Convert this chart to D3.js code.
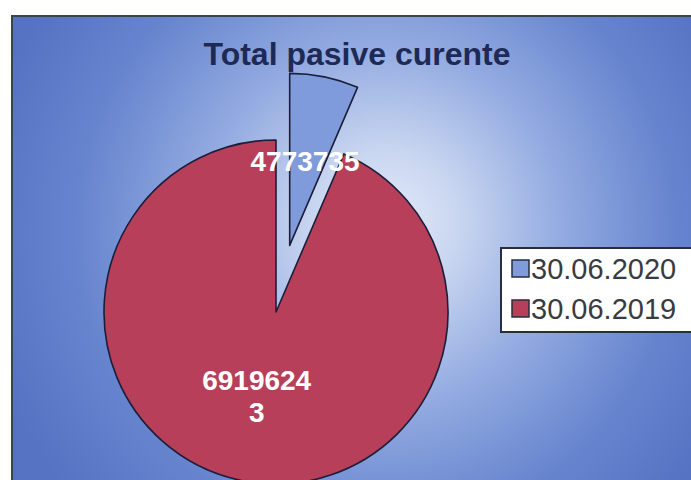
<!DOCTYPE html>
<html>
<head>
<meta charset="utf-8">
<script src="https://cdn.jsdelivr.net/npm/d3@7"></script>
<style>
  html, body { margin: 0; padding: 0; background: #ffffff; }
  svg { display: block; }
</style>
</head>
<body>
<svg id="chart" width="691" height="480"></svg>
<script>
// ---- data ----
const title = "Total pasive curente";
const categories = ["30.06.2020", "30.06.2019"];
const values = [4773735, 69196243];
const colors = ["#7f9bdb", "#b83f59"];
const explode = [68, 0];
const labelWrapChars = 7;

// ---- drawing ----
const svg = d3.select("#chart");
const W = 691, H = 480;

const defs = svg.append("defs");
const grad = defs.append("radialGradient")
  .attr("id", "bg")
  .attr("gradientUnits", "userSpaceOnUse")
  .attr("cx", 370).attr("cy", 235).attr("r", 400)
  .attr("fx", 390).attr("fy", 220);
[[0, "#e2eaf8"], [0.18, "#c9d6f0"], [0.45, "#93abe1"], [0.75, "#6684ce"], [1, "#5572c3"]]
  .forEach(([o, c]) => grad.append("stop").attr("offset", o).attr("stop-color", c));

// chart area
svg.append("rect")
  .attr("x", 12).attr("y", 16).attr("width", W + 20).attr("height", H + 20)
  .attr("fill", "url(#bg)")
  .attr("stroke", "#3c4250").attr("stroke-width", 2);

// title
svg.append("text")
  .attr("x", 357).attr("y", 65)
  .attr("text-anchor", "middle")
  .attr("font-family", "Liberation Sans, Arial, sans-serif")
  .attr("font-weight", "bold")
  .attr("font-size", 32)
  .attr("fill", "#1e2a55")
  .text(title);

// pie
const cx = 276, cy = 312, r = 172;
const pie = d3.pie().sort(null).value(d => d.value)
  .startAngle(0).endAngle(2 * Math.PI);
const data = categories.map((c, i) => ({ cat: c, value: values[i], color: colors[i], off: explode[i] }));
const arcs = pie(data);
const arc = d3.arc().innerRadius(0).outerRadius(r);

const g = svg.append("g").attr("transform", `translate(${cx},${cy})`);

function offset(d) {
  const a = (d.startAngle + d.endAngle) / 2;
  return [Math.sin(a) * d.data.off, -Math.cos(a) * d.data.off];
}

g.selectAll("path.slice")
  .data(arcs)
  .join("path")
  .attr("class", "slice")
  .attr("transform", d => `translate(${offset(d)})`)
  .attr("d", arc)
  .attr("fill", d => d.data.color)
  .attr("stroke", "#1b1e3a")
  .attr("stroke-width", 1.6)
  .attr("stroke-linejoin", "round");

// labels
function wrap(str, n) {
  const out = [];
  for (let i = 0; i < str.length; i += n) out.push(str.slice(i, i + n));
  return out;
}
const lineH = 32;
arcs.forEach(d => {
  const [ox, oy] = offset(d);
  const [lx, ly] = arc.centroid(d);
  const lines = wrap(String(d.data.value), labelWrapChars);
  const t = g.append("text")
    .attr("text-anchor", "middle")
    .attr("font-family", "Liberation Sans, Arial, sans-serif")
    .attr("font-weight", "bold")
    .attr("font-size", 28)
    .attr("fill", "#ffffff");
  const y0 = ly + oy - (lines.length - 1) * lineH / 2;
  lines.forEach((ln, i) => {
    t.append("tspan")
      .attr("x", lx + ox - 2)
      .attr("y", y0 + i * lineH)
      .attr("dy", "0.36em")
      .text(ln);
  });
});

// legend
const lg = svg.append("g");
lg.append("rect")
  .attr("x", 501).attr("y", 248).attr("width", 220).attr("height", 84)
  .attr("fill", "#ffffff")
  .attr("stroke", "#2a2e3c").attr("stroke-width", 2);
categories.forEach((c, i) => {
  const y = 269 + i * 40;
  lg.append("rect")
    .attr("x", 512).attr("y", y - 9).attr("width", 17).attr("height", 17)
    .attr("fill", colors[i])
    .attr("stroke", "#2a2e3c").attr("stroke-width", 1.5);
  lg.append("text")
    .attr("x", 531).attr("y", y)
    .attr("dy", "0.36em")
    .attr("font-family", "Liberation Sans, Arial, sans-serif")
    .attr("font-size", 29)
    .attr("fill", "#3a3a40")
    .text(c);
});
</script>
</body>
</html>
